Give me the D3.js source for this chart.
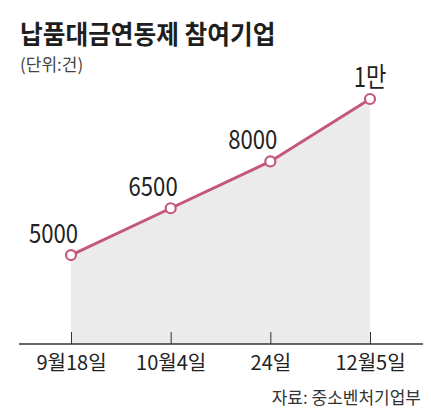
<!DOCTYPE html>
<html>
<head>
<meta charset="utf-8">
<script src="https://cdn.jsdelivr.net/npm/d3@7"></script>
<style>
  body { margin: 0; background: #fff; }
  text { font-family: "Noto Sans CJK KR", "Noto Sans", sans-serif; }
</style>
</head>
<body>
<svg id="chart" width="431" height="409"></svg>
<script>
'use strict'

const dates = ['9월18일', '10월4일', '24일', '12월5일']
const counts = [5000, 6500, 8000, 10000]
const valueLabels = ['5000', '6500', '8000', '1만']

const title = '납품대금연동제 참여기업'
const unitText = '(단위:건)'
const sourceText = '자료: 중소벤처기업부'

const svg = d3.select('#chart')
const lineColor = '#c4577f'

const x = d3.scalePoint().domain(dates).range([71, 370])
const y = d3.scaleLinear().domain([2150, 10000]).range([344, 99])

// squeezed text, like the condensed newspaper face
function label(g, str, px, py, size, sx, anchor, weight, color) {
	return g.append('text')
		.attr('transform', 'translate(' + px + ',' + py + ') scale(' + sx + ',1)')
		.attr('text-anchor', anchor)
		.style('font-size', size + 'px')
		.style('font-weight', weight)
		.attr('fill', color)
		.text(str)
}

label(svg, title, 20, 44, 26, 0.95, 'start', 700, '#1e1e1e')
label(svg, unitText, 20, 71, 17, 1.0, 'start', 400, '#444')

const data = dates.map((d, i) => ({date: d, value: counts[i], label: valueLabels[i]}))

const area = d3.area()
	.x(d => x(d.date))
	.y0(y.range()[0])
	.y1(d => y(d.value))

svg.append('path')
	.datum(data)
	.attr('fill', '#ebebeb')
	.attr('d', area)

// axis
const xAxis = d3.axisBottom(x).tickSize(-12).tickPadding(8).tickSizeOuter(0)
const axisG = svg.append('g')
	.attr('transform', 'translate(0,' + y.range()[0] + ')')
	.call(xAxis)
axisG.select('.domain').remove()
axisG.append('line')
	.attr('x1', 19).attr('x2', 423)
	.attr('stroke', '#333').attr('stroke-width', 1.3)
axisG.selectAll('.tick line').attr('stroke', '#333').attr('stroke-width', 1)
axisG.selectAll('.tick text').remove()
axisG.selectAll('.tick').each(function(d) {
	label(d3.select(this), d, 0, 26, 20, 1.0, 'middle', 400, '#222')
})

const line = d3.line()
	.x(d => x(d.date))
	.y(d => y(d.value))

svg.append('path')
	.datum(data)
	.attr('fill', 'none')
	.attr('stroke', lineColor)
	.attr('stroke-width', 3)
	.attr('d', line)

svg.selectAll('.dot')
	.data(data)
	.enter().append('circle')
	.attr('class', 'dot')
	.attr('cx', d => x(d.date))
	.attr('cy', d => y(d.value))
	.attr('r', 5)
	.attr('fill', '#fff')
	.attr('stroke', lineColor)
	.attr('stroke-width', 2.2)

data.forEach((d, i) => {
	const last = i === data.length - 1
	label(svg, d.label,
		x(d.date) + (last ? 0 : 7),
		y(d.value) - 12,
		27, 0.82, last ? 'middle' : 'end', 400, '#222')
})

label(svg, sourceText, 421, 404, 17, 1.0, 'end', 400, '#333')
</script>
</body>
</html>
